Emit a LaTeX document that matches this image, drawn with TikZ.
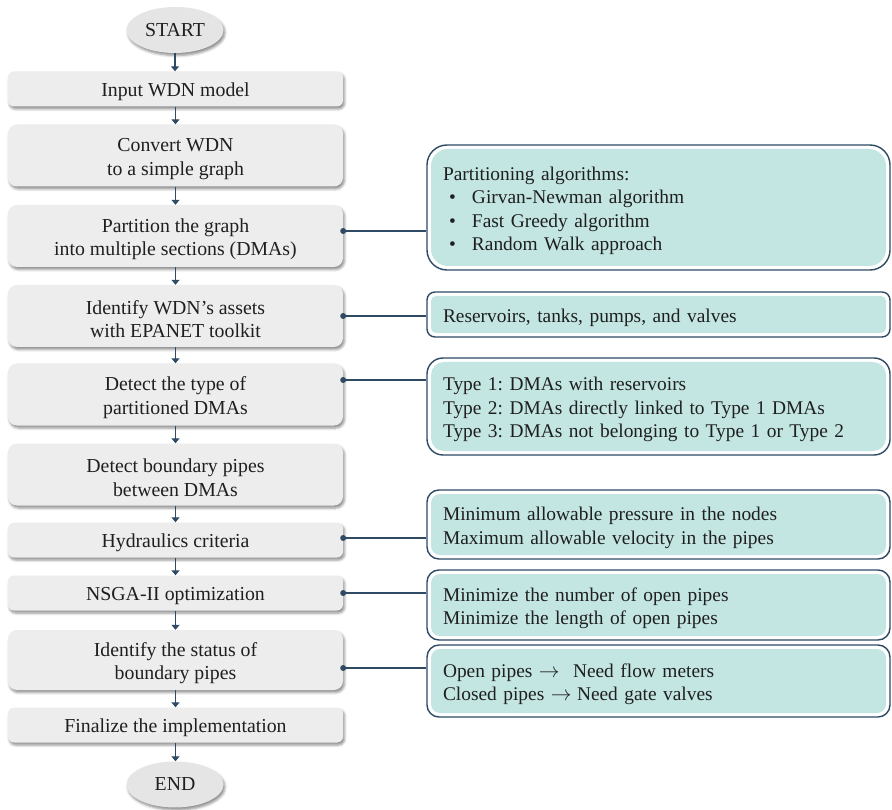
\documentclass[tikz,border=0pt]{standalone}
\usepackage{fontspec}
\setmainfont{Liberation Serif}
\usetikzlibrary{shapes.geometric,shadows.blur,arrows.meta,calc}
\definecolor{navy}{HTML}{2E4A64}
\definecolor{boxgrey}{HTML}{EDEDED}
\definecolor{tealfill}{HTML}{C3E6E3}
\definecolor{ellgrey}{HTML}{E5E5E5}
\frenchspacing
\tikzset{
  base/.style={font=\fontsize{19.8}{23.5}\selectfont, text=black!88},
  softshadow/.style={blur shadow={shadow xshift=1.5pt, shadow yshift=-2.5pt, shadow blur radius=2.5pt, shadow opacity=45}},
  stepbox/.style={base, rectangle, rounded corners=#1, fill=boxgrey, minimum width=335pt,
    align=center, inner sep=0pt, softshadow},
  one/.style={stepbox=6pt, minimum height=35pt},
  two/.style={stepbox=9pt, minimum height=62pt},
  term/.style={base, ellipse, fill=ellgrey, minimum width=97pt, minimum height=46pt, inner sep=0pt, softshadow},
  rbox/.style={base, font=\fontsize{19.4}{23.5}\selectfont, rectangle, draw=navy, line width=1.4pt, fill=white, rounded corners=#1,
    text width=431pt, align=left, inner xsep=16pt, inner ysep=0pt,
    path picture={\fill[tealfill, rounded corners=#1-3pt]
      ($(path picture bounding box.north west)+(4pt,-4pt)$) rectangle
      ($(path picture bounding box.south east)+(-4pt,4pt)$);}},
  flow/.style={draw=navy, line width=1.3pt, -{Triangle[length=5pt,width=8pt]}},
  conn/.style={draw=navy, line width=1.2pt},
}
\newcommand{\bul}[1]{\hspace*{6pt}\makebox[23pt][l]{•}#1}
\newcommand{\tstrut}{\rule{0pt}{20pt}}
\begin{document}
\begin{tikzpicture}[x=1pt,y=-1pt]
\useasboundingbox (0,0) rectangle (892,810);
% left column
\node[term] (start) at (175,30) {START};
\node[one] (b1) at (175.5,89) {\tstrut Input WDN model};
\node[two] (b2) at (175.5,155.5) {\tstrut Convert WDN\\to a simple graph};
\node[two] (b3) at (175.5,236) {\tstrut Partition the graph\\into multiple sections (DMAs)};
\node[two] (b4) at (175.5,316) {\tstrut Identify WDN’s assets\\with EPANET toolkit};
\node[two] (b5) at (175.5,394.5) {\tstrut Detect the type of\\partitioned DMAs};
\node[two] (b6) at (175.5,474.5) {\tstrut Detect boundary pipes\\between DMAs};
\node[one] (b7) at (175.5,540) {\tstrut Hydraulics criteria};
\node[one] (b8) at (175.5,593) {\tstrut NSGA-II optimization};
\node[two, minimum height=60pt] (b9) at (175.5,660) {\tstrut Identify the status of\\boundary pipes};
\node[one] (b10) at (175.5,725) {\tstrut Finalize the implementation};
\node[term] (end) at (175,784.5) {END};
% arrows
\foreach \a/\b in {start/b1,b1/b2,b2/b3,b3/b4,b4/b5,b5/b6,b6/b7,b7/b8,b8/b9,b9/b10,b10/end}
  \draw[flow] (\a.south) -- (\a.south |- \b.north);
% right column
\node[rbox=20pt, minimum height=125pt] (r1) at (658.5,207.5) {\tstrut Partitioning algorithms:\\\bul{Girvan-Newman algorithm}\\\bul{Fast Greedy algorithm}\\\bul{Random Walk approach}};
\node[rbox=8pt, minimum height=45pt] (r2) at (658.5,314.5) {\tstrut Reservoirs, tanks, pumps, and valves};
\node[rbox=16pt, minimum height=97pt] (r3) at (658.5,406.5) {\tstrut Type 1: DMAs with reservoirs\\Type 2: DMAs directly linked to Type 1 DMAs\\Type 3: DMAs not belonging to Type 1 or Type 2};
\node[rbox=12pt, minimum height=69pt] (r4) at (658.5,524.5) {\tstrut Minimum allowable pressure in the nodes\\Maximum allowable velocity in the pipes};
\node[rbox=12pt, minimum height=70pt] (r5) at (658.5,605) {\tstrut Minimize the number of open pipes\\Minimize the length of open pipes};
\node[rbox=12pt, minimum height=72pt] (r6) at (658.5,681) {\tstrut\makebox[130pt][l]{Open pipes $\rightarrow$}Need flow meters\\\makebox[134pt][l]{Closed pipes $\rightarrow$}Need gate valves};
% connectors
\coordinate (c3) at (342,231);
\coordinate (c4) at (342,316);
\coordinate (c5) at (342,380);
\coordinate (c7) at (342,538);
\coordinate (c8) at (342,593);
\coordinate (c9) at (342,668);
\foreach \l/\r/\c in {b3/r1/c3,b4/r2/c4,b5/r3/c5,b7/r4/c7,b8/r5/c8,b9/r6/c9}{
  \draw[conn] (\l.east |- \c) -- (\r.west |- \c);
  \fill[navy] (\l.east |- \c) circle (3pt);
}
\end{tikzpicture}
\end{document}
